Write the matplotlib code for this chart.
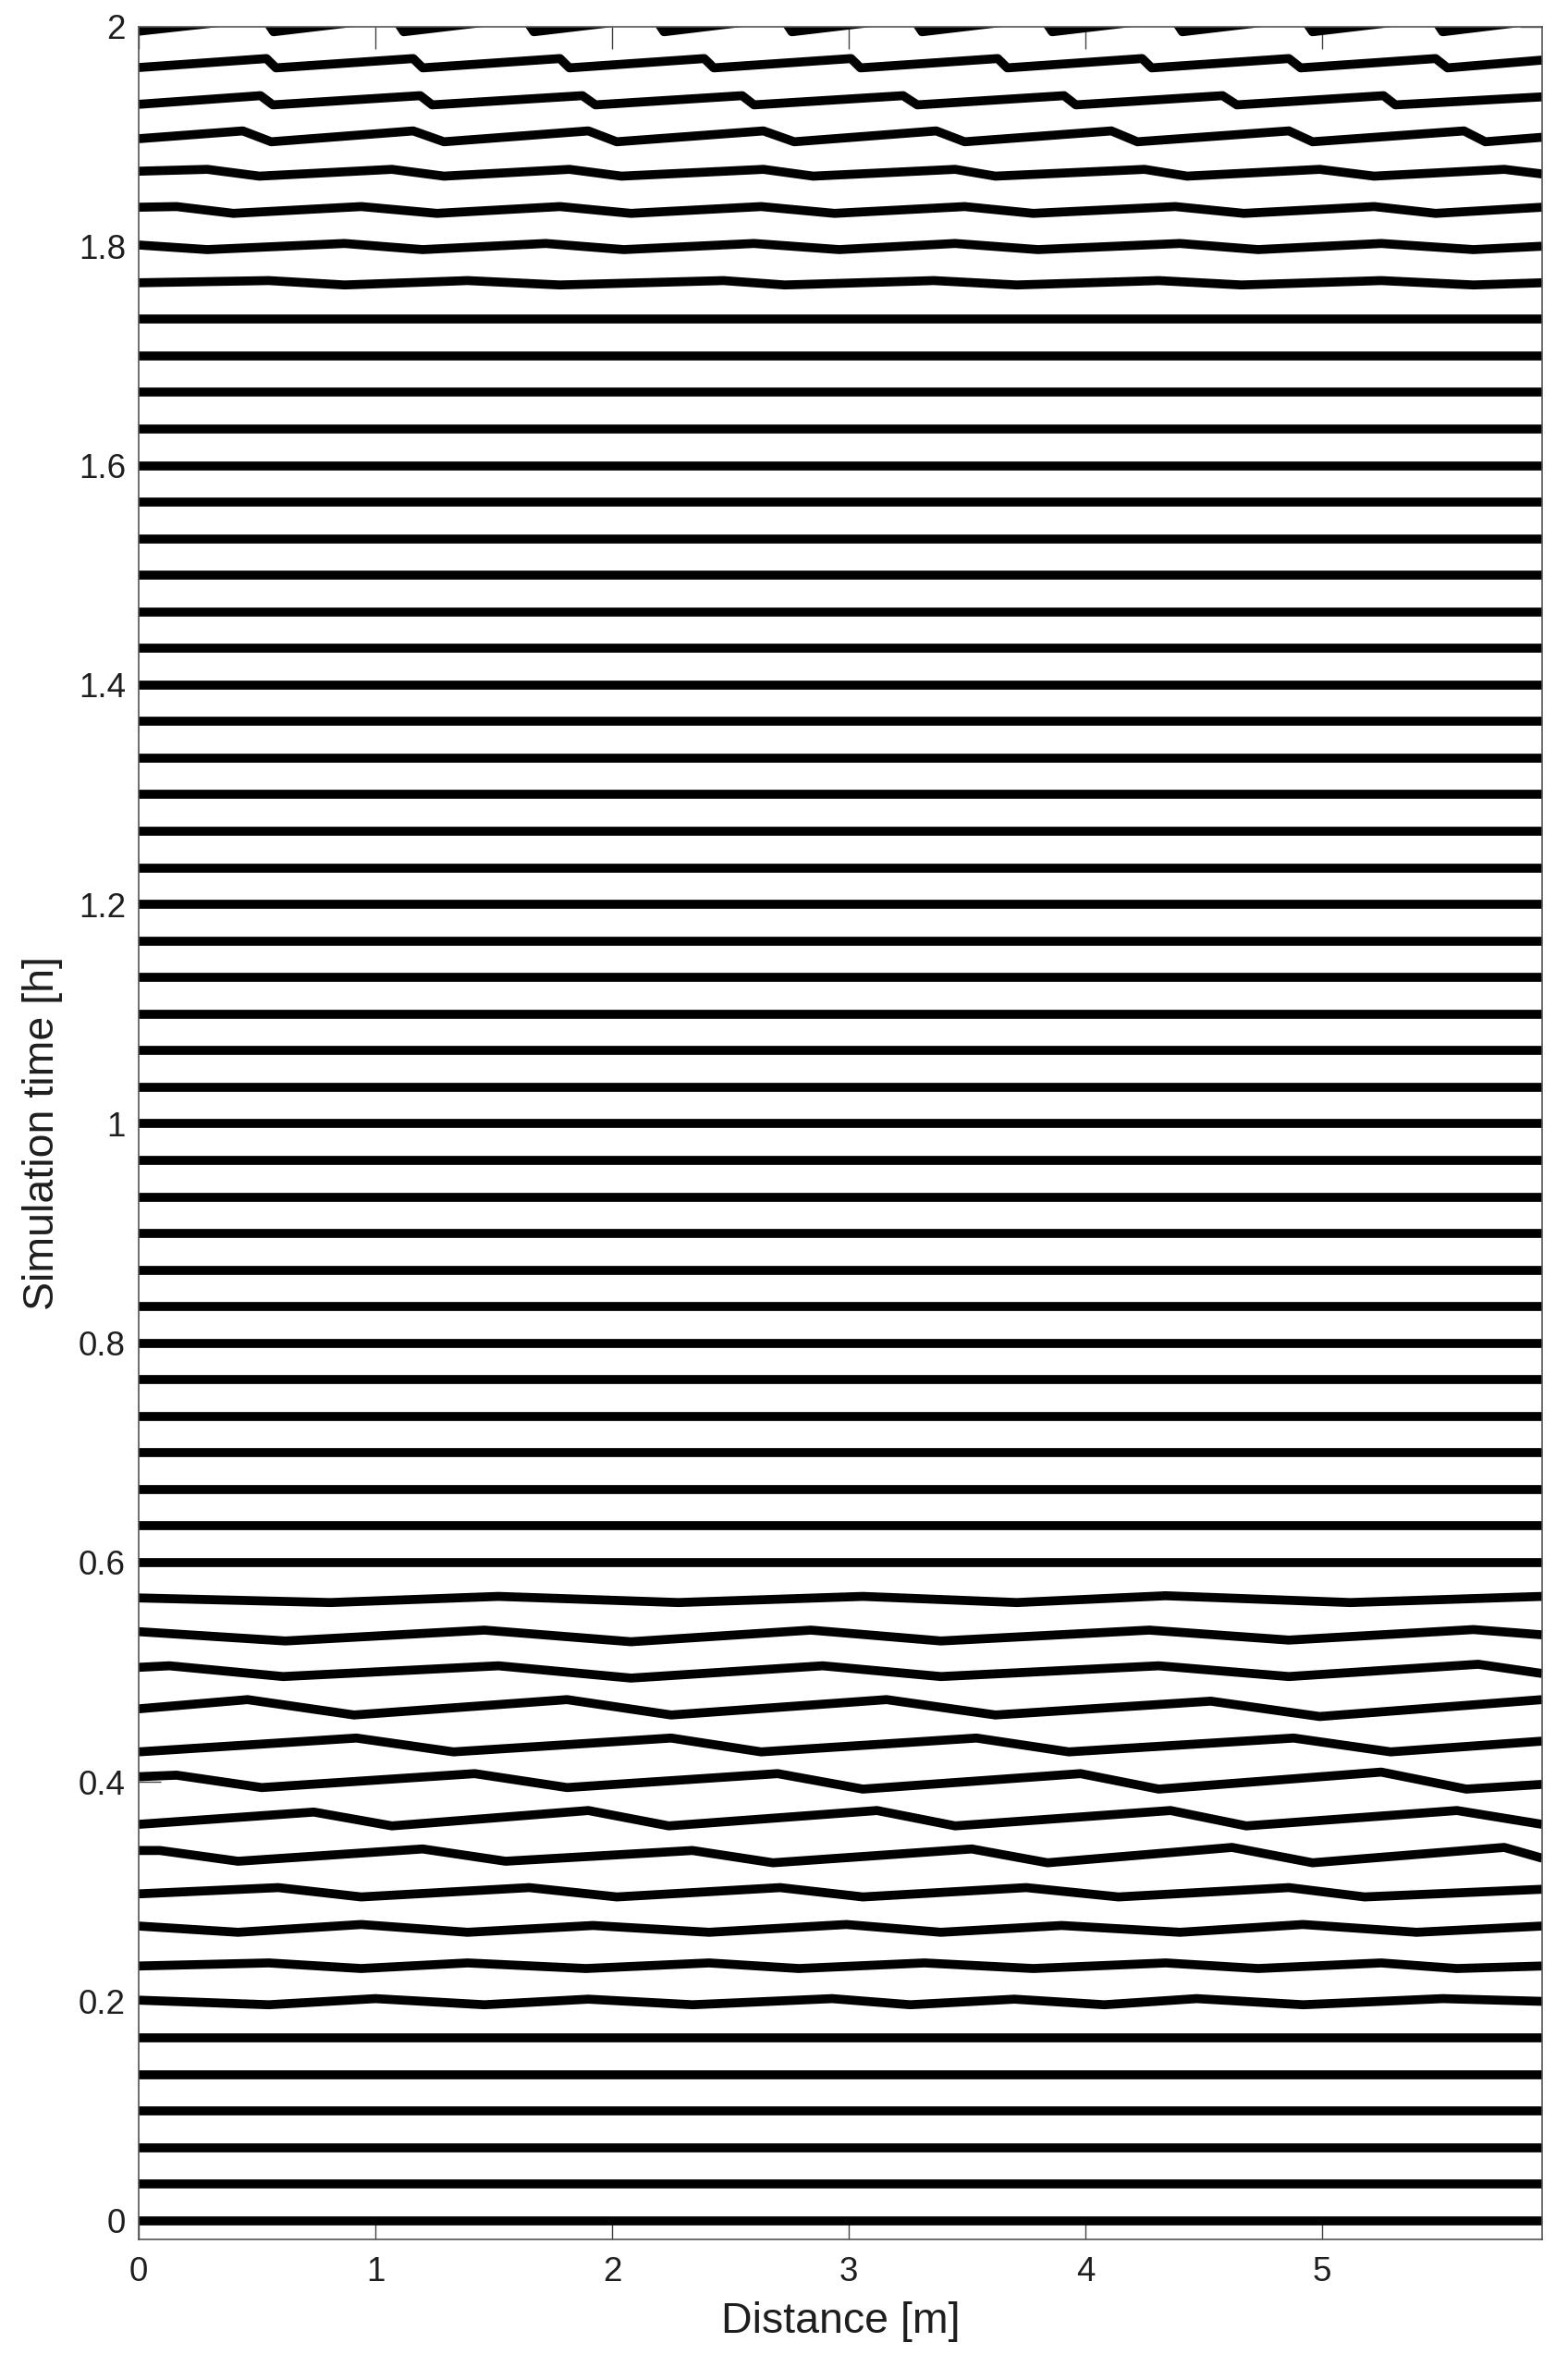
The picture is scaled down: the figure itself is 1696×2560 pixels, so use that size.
import matplotlib
matplotlib.use("Agg")
import matplotlib.pyplot as plt

plt.rcParams['font.family'] = ['Liberation Sans', 'DejaVu Sans']

# ---------------- data ----------------
# profile time stamps [min] (one line every 2 minutes)
times_min = [0, 2, 4, 6, 8, 10, 12, 14, 16, 18, 20, 22, 24, 26, 28, 30, 32, 34, 36, 38,
             40, 42, 44, 46, 48, 50, 52, 54, 56, 58, 60, 62, 64, 66, 68, 70, 72, 74, 76, 78,
             80, 82, 84, 86, 88, 90, 92, 94, 96, 98, 100, 102, 104, 106, 108, 110, 112, 114,
             116, 118, 120]

x_min, x_max = 0.0, 5.93
flat_x = [0.0, 5.93]
flat_dy = [0.0, 0.0]

# surface deviation [h-axis units] read at distance knots [m]
x_120 = [0.00, 0.53, 0.57, 1.08, 1.12, 1.63, 1.67, 2.18, 2.22, 2.72, 2.76, 3.27, 3.31, 3.82, 3.86,
         4.37, 4.41, 4.92, 4.96, 5.47, 5.51, 5.93]
dy_120 = [-0.0040, 0.0085, -0.0045, 0.0085, -0.0045, 0.0085, -0.0045, 0.0085, -0.0045, 0.0085, -0.0045,
          0.0085, -0.0045, 0.0085, -0.0045, 0.0085, -0.0045, 0.0085, -0.0045, 0.0085, -0.0045, 0.0065]

x_118 = [0.00, 0.54, 0.58, 1.16, 1.20, 1.78, 1.82, 2.39, 2.43, 3.01, 3.05, 3.63, 3.67, 4.24, 4.28,
         4.86, 4.91, 5.48, 5.53, 5.93]
dy_118 = [-0.0038, 0.0044, -0.0041, 0.0044, -0.0041, 0.0044, -0.0041, 0.0044, -0.0041, 0.0044, -0.0041,
          0.0044, -0.0041, 0.0044, -0.0041, 0.0044, -0.0041, 0.0044, -0.0041, 0.0030]

x_116 = [0.00, 0.515, 0.567, 1.19, 1.24, 1.875, 1.93, 2.55, 2.60, 3.23, 3.29, 3.91, 3.96, 4.58, 4.64,
         5.26, 5.31, 5.93]
dy_116 = [-0.0040, 0.0039, -0.0045, 0.0039, -0.0045, 0.0039, -0.0045, 0.0039, -0.0045, 0.0039, -0.0045,
          0.0039, -0.0045, 0.0039, -0.0045, 0.0039, -0.0045, 0.0028]

x_114 = [0.00, 0.44, 0.56, 1.16, 1.29, 1.90, 2.02, 2.64, 2.77, 3.37, 3.49, 4.11, 4.22, 4.86, 4.96,
         5.60, 5.69, 5.93]
dy_114 = [-0.0020, 0.0051, -0.0048, 0.0051, -0.0048, 0.0051, -0.0048, 0.0051, -0.0048, 0.0051, -0.0048,
          0.0051, -0.0048, 0.0051, -0.0048, 0.0051, -0.0048, -0.0007]

x_112 = [0.00, 0.29, 0.51, 1.07, 1.29, 1.82, 2.04, 2.64, 2.85, 3.45, 3.62, 4.25, 4.43, 4.99, 5.22,
         5.77, 5.93]
dy_112 = [0.0017, 0.0034, -0.0028, 0.0034, -0.0028, 0.0034, -0.0028, 0.0034, -0.0028, 0.0034, -0.0028,
          0.0034, -0.0028, 0.0034, -0.0028, 0.0034, -0.0008]

x_110 = [0.00, 0.16, 0.40, 0.94, 1.26, 1.78, 2.08, 2.63, 2.94, 3.49, 3.78, 4.38, 4.67, 5.22, 5.48, 5.93]
dy_110 = [0.0022, 0.0028, -0.0034, 0.0028, -0.0034, 0.0028, -0.0034, 0.0028, -0.0034, 0.0028, -0.0034,
          0.0028, -0.0034, 0.0028, -0.0034, 0.0022]

x_108 = [0.00, 0.29, 0.87, 1.20, 1.72, 2.05, 2.60, 2.96, 3.45, 3.80, 4.40, 4.73, 5.25, 5.64, 5.93]
dy_108 = [0.0011, -0.0031, 0.0025, -0.0031, 0.0025, -0.0031, 0.0025, -0.0031, 0.0025, -0.0031, 0.0025,
          -0.0031, 0.0025, -0.0031, 0.0000]

x_106 = [0.00, 0.55, 0.87, 1.39, 1.78, 2.47, 2.73, 3.36, 3.71, 4.31, 4.66, 5.25, 5.64, 5.93]
dy_106 = [0.0000, 0.0020, -0.0020, 0.0020, -0.0020, 0.0020, -0.0020, 0.0020, -0.0020, 0.0020, -0.0020,
          0.0020, -0.0020, 0.0000]

x_34 = [0.00, 0.81, 1.52, 2.28, 3.06, 3.71, 4.34, 5.12, 5.93]
dy_34 = [0.0011, -0.0031, 0.0025, -0.0031, 0.0025, -0.0031, 0.0031, -0.0031, 0.0025]

x_32 = [0.00, 0.62, 1.46, 2.08, 2.84, 3.39, 4.27, 4.86, 5.64, 5.93]
dy_32 = [0.0037, -0.0048, 0.0051, -0.0055, 0.0051, -0.0048, 0.0051, -0.0040, 0.0056, 0.0008]

x_30 = [0.00, 0.13, 0.61, 1.52, 2.08, 2.89, 3.39, 4.31, 4.86, 5.66, 5.93]
dy_30 = [0.0045, 0.0059, -0.0039, 0.0059, -0.0053, 0.0059, -0.0039, 0.0059, -0.0039, 0.0073, -0.0011]

x_28 = [0.00, 0.46, 0.91, 1.81, 2.25, 3.16, 3.62, 4.53, 4.99, 5.93]
dy_28 = [0.0000, 0.0084, -0.0056, 0.0084, -0.0056, 0.0084, -0.0056, 0.0070, -0.0070, 0.0084]

x_26 = [0.00, 0.92, 1.33, 2.25, 2.63, 3.54, 3.93, 4.88, 5.29, 5.93]
dy_26 = [-0.0059, 0.0067, -0.0059, 0.0067, -0.0059, 0.0067, -0.0059, 0.0067, -0.0059, 0.0039]

x_24 = [0.00, 0.16, 0.52, 1.42, 1.81, 2.70, 3.06, 3.98, 4.31, 5.25, 5.61, 5.93]
dy_24 = [0.0048, 0.0062, -0.0051, 0.0076, -0.0051, 0.0076, -0.0065, 0.0076, -0.0065, 0.0090, -0.0065, -0.0022]

x_22 = [0.00, 0.74, 1.07, 1.90, 2.24, 3.12, 3.45, 4.36, 4.68, 5.57, 5.93]
dy_22 = [-0.0053, 0.0059, -0.0067, 0.0073, -0.0067, 0.0073, -0.0067, 0.0073, -0.0067, 0.0073, -0.0053]

x_20 = [0.00, 0.09, 0.42, 1.20, 1.55, 2.34, 2.68, 3.52, 3.84, 4.62, 4.96, 5.77, 5.93]
dy_20 = [0.0042, 0.0042, -0.0056, 0.0056, -0.0056, 0.0042, -0.0070, 0.0056, -0.0070, 0.0070, -0.0070,
         0.0070, -0.0028]

x_18 = [0.00, 0.59, 0.94, 1.65, 2.02, 2.71, 3.06, 3.75, 4.14, 4.86, 5.18, 5.93]
dy_18 = [-0.0020, 0.0037, -0.0048, 0.0037, -0.0048, 0.0037, -0.0048, 0.0037, -0.0048, 0.0037, -0.0048, 0.0022]

x_16 = [0.00, 0.42, 0.94, 1.39, 1.92, 2.41, 2.99, 3.39, 3.90, 4.40, 4.92, 5.40, 5.93]
dy_16 = [0.0020, -0.0037, 0.0034, -0.0037, 0.0025, -0.0037, 0.0034, -0.0037, 0.0025, -0.0037, 0.0034,
         -0.0037, 0.0020]

x_14 = [0.00, 0.55, 0.94, 1.39, 1.89, 2.41, 2.79, 3.32, 3.78, 4.34, 4.73, 5.25, 5.57, 5.93]
dy_14 = [-0.0011, 0.0017, -0.0034, 0.0017, -0.0034, 0.0017, -0.0034, 0.0017, -0.0034, 0.0017, -0.0034,
         0.0017, -0.0034, -0.0011]

x_12 = [0.00, 0.55, 1.00, 1.46, 1.90, 2.34, 2.93, 3.26, 3.70, 4.08, 4.47, 4.92, 5.51, 5.93]
dy_12 = [0.0011, -0.0031, 0.0025, -0.0031, 0.0020, -0.0031, 0.0025, -0.0031, 0.0020, -0.0031, 0.0025,
         -0.0031, 0.0025, 0.0000]

x_ticks = [0, 1, 2, 3, 4, 5]
x_tick_labels = ['0', '1', '2', '3', '4', '5']
y_ticks = [0, 0.2, 0.4, 0.6, 0.8, 1.0, 1.2, 1.4, 1.6, 1.8, 2.0]
y_tick_labels = ['0', '0.2', '0.4', '0.6', '0.8', '1', '1.2', '1.4', '1.6', '1.8', '2']
x_label = 'Distance [m]'
y_label = 'Simulation time [h]'

profiles = {
    120: (x_120, dy_120), 118: (x_118, dy_118), 116: (x_116, dy_116), 114: (x_114, dy_114),
    112: (x_112, dy_112), 110: (x_110, dy_110), 108: (x_108, dy_108), 106: (x_106, dy_106),
    34: (x_34, dy_34), 32: (x_32, dy_32), 30: (x_30, dy_30), 28: (x_28, dy_28),
    26: (x_26, dy_26), 24: (x_24, dy_24), 22: (x_22, dy_22), 20: (x_20, dy_20),
    18: (x_18, dy_18), 16: (x_16, dy_16), 14: (x_14, dy_14), 12: (x_12, dy_12),
}

# ---------------- plot ----------------
W, H = 1696, 2560
fig = plt.figure(figsize=(W / 100, H / 100), dpi=100)
ax = fig.add_axes([150 / W, 138 / H, 1518 / W, 2393 / H])

for tm in times_min:
    t = tm / 60.0
    xs, dys = profiles.get(tm, (flat_x, flat_dy))
    ax.plot(xs, [t + d for d in dys], color='black', lw=7.0,
            solid_joinstyle='round', solid_capstyle='butt', zorder=2)

ax.set_xlim(x_min, x_max)
ax.set_ylim(-0.017, 2.0)
ax.set_xticks(x_ticks)
ax.set_xticklabels(x_tick_labels)
ax.set_yticks(y_ticks)
ax.set_yticklabels(y_tick_labels)

txt_color = '#1e1e1e'
ax.tick_params(direction='in', length=17, width=1.0, color='#444444',
               top=True, right=True, labelsize=26.5, labelcolor=txt_color)
ax.tick_params(axis='y', pad=10)
ax.tick_params(axis='x', pad=13)
for s in ax.spines.values():
    s.set_color('#555555')
    s.set_linewidth(1.2)
    s.set_zorder(3)

ax.set_xlabel(x_label, fontsize=33.5, color=txt_color, labelpad=10)
ax.set_ylabel(y_label, fontsize=33.5, color=txt_color, labelpad=12)

fig.savefig('out.png', dpi=100, facecolor='white')
